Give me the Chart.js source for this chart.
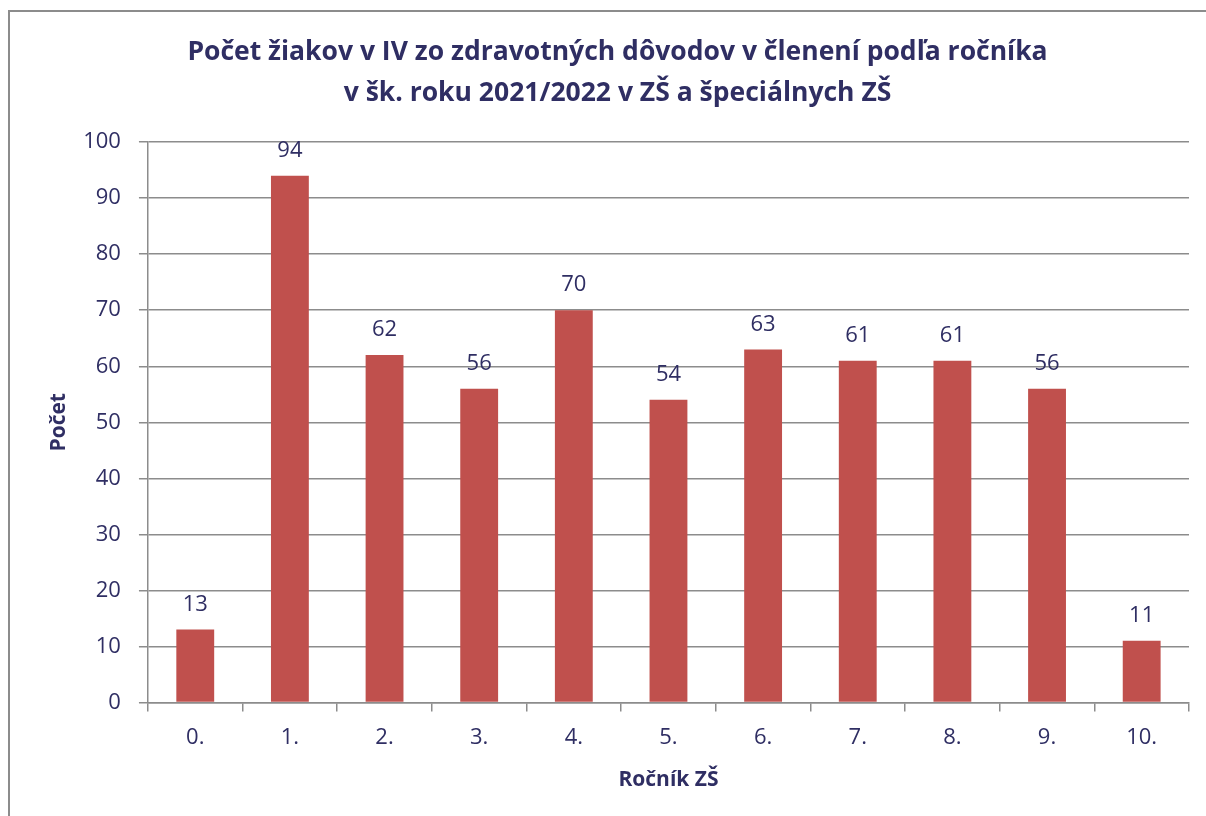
<!DOCTYPE html>
<html>
<head>
<meta charset="utf-8">
<script src="https://cdn.jsdelivr.net/npm/chart.js@4.4.1/dist/chart.umd.min.js"></script>
<style>
    html, body { margin: 0; padding: 0; background: #fff; }
    #wrap { position: relative; width: 1206px; height: 816px; overflow: hidden; }
    #frame {
        position: absolute; left: 8px; top: 10px; width: 1300px; height: 900px;
        border: 2px solid #8c8c8c; box-sizing: border-box;
    }
    #chart { position: absolute; left: 0; top: 0; }
</style>
</head>
<body>
<div id="wrap">
    <div id="frame"></div>
    <canvas id="chart" width="1206" height="816"></canvas>
</div>
<script>
// Chart data
const grades = ['0.', '1.', '2.', '3.', '4.', '5.', '6.', '7.', '8.', '9.', '10.'];
const pupilCounts = [13, 94, 62, 56, 70, 54, 63, 61, 61, 56, 11];
const yTicks = [0, 10, 20, 30, 40, 50, 60, 70, 80, 90, 100];

const textColor = '#2f2e63';
const gridColor = '#8c8c8c';
const tickFont = { family: '"Open Sans", "Noto Sans", sans-serif', size: 22 };
const boldFamily = '"Open Sans", "Noto Sans", sans-serif';

// Draw value labels above the bars
const valueLabels = {
    id: 'valueLabels',
    afterDatasetsDraw(chart) {
        const ctx = chart.ctx;
        const meta = chart.getDatasetMeta(0);
        ctx.save();
        ctx.fillStyle = textColor;
        ctx.font = `${tickFont.size}px ${tickFont.family}`;
        ctx.textAlign = 'center';
        ctx.textBaseline = 'middle';
        meta.data.forEach((bar, i) => {
            ctx.fillText(pupilCounts[i], bar.x, bar.y - 25);
        });
        ctx.restore();
    }
};

new Chart(document.getElementById('chart'), {
    type: 'bar',
    data: {
        labels: grades,
        datasets: [{
            data: pupilCounts,
            backgroundColor: '#c0504d',
            borderWidth: 0,
            categoryPercentage: 1,
            barPercentage: 0.4
        }]
    },
    plugins: [valueLabels],
    options: {
        responsive: false,
        animation: false,
        layout: { padding: { left: 46, right: 17, top: 21, bottom: 23 } },
        plugins: {
            legend: { display: false },
            tooltip: { enabled: false },
            title: {
                display: true,
                text: ['Počet žiakov v IV zo zdravotných dôvodov v členení podľa ročníka',
                       'v šk. roku 2021/2022 v ZŠ a špeciálnych ZŠ'],
                color: textColor,
                font: { family: boldFamily, size: 26.5, weight: 'bold', lineHeight: 1.55 },
                padding: { top: 11, bottom: 28 }
            }
        },
        scales: {
            x: {
                grid: {
                    offset: true,
                    drawOnChartArea: false,
                    drawTicks: true,
                    tickLength: 9,
                    color: gridColor,
                    lineWidth: 1.5
                },
                border: { color: gridColor, width: 1.5 },
                ticks: { color: textColor, font: tickFont, padding: 13 },
                title: {
                    display: true,
                    text: 'Ročník ZŠ',
                    color: textColor,
                    font: { family: boldFamily, size: 21, weight: 'bold' },
                    padding: { top: 4, bottom: 0 }
                }
            },
            y: {
                min: 0,
                max: 100,
                afterBuildTicks(axis) {
                    axis.ticks = yTicks.map(v => ({ value: v }));
                },
                grid: {
                    color: gridColor,
                    lineWidth: 1.5,
                    tickLength: 9
                },
                border: { color: gridColor, width: 1.5 },
                ticks: { color: textColor, font: tickFont, padding: 18 },
                title: {
                    display: true,
                    text: 'Počet',
                    color: textColor,
                    font: { family: boldFamily, size: 21, weight: 'bold' },
                    padding: { top: 0, bottom: -6 }
                }
            }
        }
    }
});
</script>
</body>
</html>
